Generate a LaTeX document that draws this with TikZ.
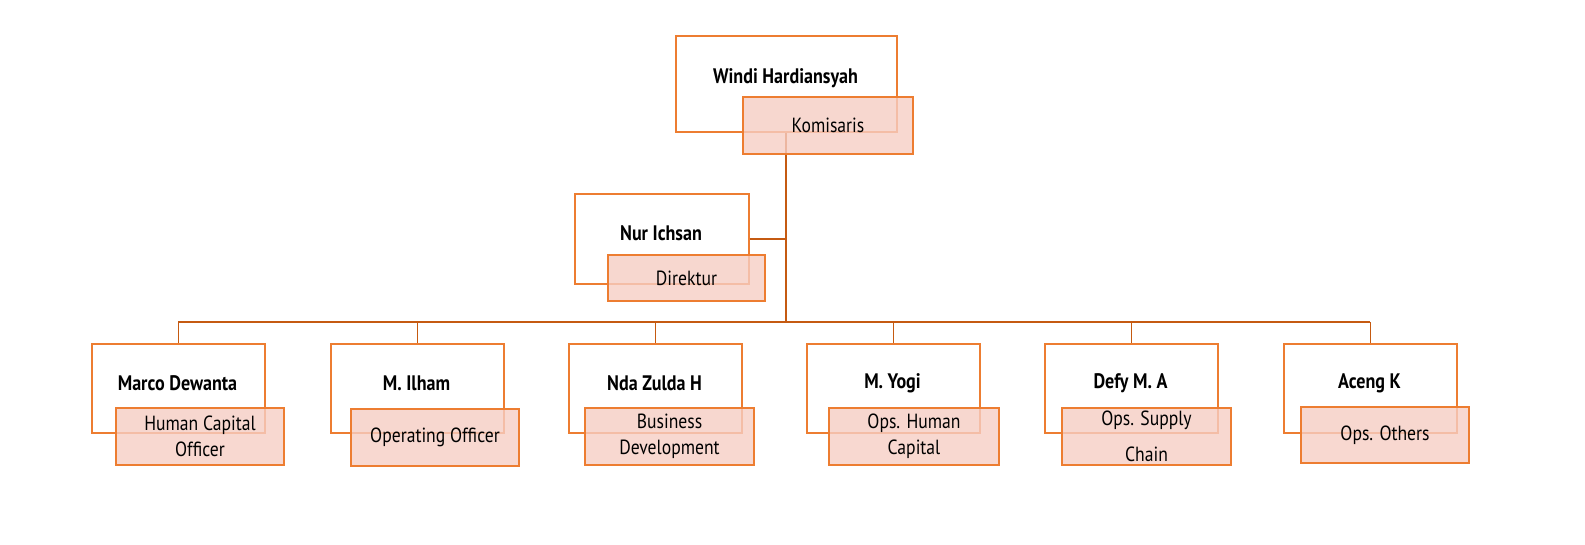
\documentclass[tikz,border=0pt]{standalone}
\usepackage{fontspec}
\setmainfont[FakeStretch=0.86]{PT Sans}
\definecolor{boxline}{HTML}{ED7D31}
\definecolor{conn}{HTML}{C55A11}
\definecolor{labfill}{HTML}{F6CEC4}
\tikzset{
 namebox/.style={draw=boxline, line width=1.5pt, fill=white, rectangle, inner sep=0pt, anchor=north west},
 rolebox/.style={draw=boxline, line width=1.5pt, fill=labfill, fill opacity=0.8, text opacity=1, draw opacity=1, inner sep=0pt, align=center, font=\fontsize{20.5}{26}\selectfont},
 nametext/.style={font=\bfseries\fontsize{21}{24}\selectfont, inner sep=0pt},
 link/.style={draw=conn, line width=1.5pt},
}
\begin{document}
\begin{tikzpicture}[x=1pt,y=-1pt]
\useasboundingbox (0,0) rectangle (1585,544);
% boxes
\node[namebox, minimum width=221pt, minimum height=96pt] (b0) at (675,35) {};
\node[namebox, minimum width=174pt, minimum height=90pt] (b1) at (574,193) {};
\foreach \i/\x in {2/91,3/330,4/568,5/806,6/1044,7/1283}{
  \node[namebox, minimum width=173pt, minimum height=89pt] (b\i) at (\x,343) {};
}
% connectors
\coordinate (bus) at (787,322);
\draw[link, line width=2pt] (b0.south) -- (b0.south |- bus);
\draw[link] (b1.east) -- (b1.east -| b0.south);
\draw[link] (b2.north |- bus) -- (b7.north |- bus);
\foreach \i in {2,...,7}{
  \draw[link] (b\i.north |- bus) -- (b\i.north);
}
% names
\node[nametext] (n0) at (785.5,78) {Windi Hardiansyah};
\node[nametext] (n1) at (661,233) {Nur Ichsan};
\node[nametext] (n2) at (177.5,383) {Marco Dewanta};
\node[nametext] (n3) at (416.5,383) {M. Ilham};
\node[nametext] (n4) at (654.5,383) {Nda Zulda H};
\node[nametext] (n5) at (892.5,383) {M. Yogi};
\node[nametext] (n6) at (1130.5,383) {Defy M. A};
\node[nametext] (n7) at (1369.5,383) {Aceng K};
% roles
\node[rolebox, minimum width=170pt, minimum height=57pt] (r0) at (828,125.5) {Komisaris};
\node[rolebox, minimum width=157pt, minimum height=46pt] (r1) at (686.5,278) {Direktur};
\node[rolebox, minimum width=168pt, minimum height=57pt] (r2) at (200,436.5) {Human Capital\\Officer};
\node[rolebox, minimum width=168pt, minimum height=57pt] (r3) at (435,437.5) {Operating Officer};
\node[rolebox, minimum width=169pt, minimum height=57pt] (r4) at (669.5,436.5) {Business\\Development};
\node[rolebox, minimum width=170pt, minimum height=57pt] (r5) at (914,436.5) {Ops. Human\\Capital};
\node[rolebox, minimum width=169pt, minimum height=57pt] (r6) at (1146.5,436.5) {Ops. Supply\\[10pt]Chain};
\node[rolebox, minimum width=168pt, minimum height=56pt] (r7) at (1385,435) {Ops. Others};
\end{tikzpicture}
\end{document}
